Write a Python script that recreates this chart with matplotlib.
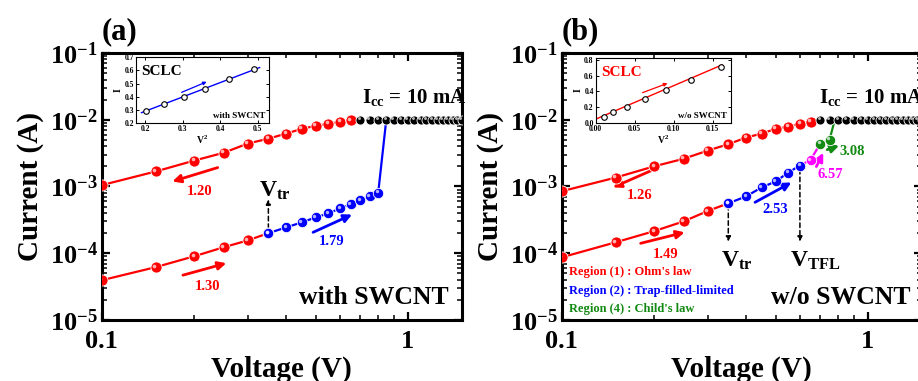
import numpy as np
import matplotlib.pyplot as plt
from matplotlib.ticker import NullFormatter
from matplotlib.transforms import ScaledTranslation

plt.rcParams['font.family'] = ['Liberation Serif', 'DejaVu Serif']
plt.rcParams['font.weight'] = 'bold'
plt.rcParams['axes.labelweight'] = 'bold'
plt.rcParams['mathtext.fontset'] = 'custom'
plt.rcParams['mathtext.rm'] = 'Liberation Serif:bold'
plt.rcParams['mathtext.bf'] = 'Liberation Serif:bold'
plt.rcParams['mathtext.it'] = 'Liberation Serif:bold'
plt.rcParams['axes.linewidth'] = 2.2

RED, BLUE, GREEN, MAG = '#ff0000', '#0000ff', '#138a13', '#ff00ff'

# (a) with SWCNT
a_back_v = [0.10, 0.15, 0.20, 0.25, 0.30, 0.35, 0.40, 0.45, 0.50, 0.55, 0.60, 0.65]
a_back_i = [1.05e-3, 1.68e-3, 2.44e-3, 3.2e-3, 4.4e-3, 5.2e-3, 6.2e-3, 7.3e-3, 8.1e-3, 8.7e-3, 9.3e-3, 9.8e-3]
a_ohm_v = [0.10, 0.15, 0.20, 0.25, 0.30, 0.35]
a_ohm_i = [3.95e-5, 6.2e-5, 9.0e-5, 1.23e-4, 1.56e-4, 2.0e-4]
a_tfl_v = [0.35, 0.40, 0.45, 0.50, 0.55, 0.60, 0.65, 0.70, 0.75, 0.80]
a_tfl_i = [2.0e-4, 2.44e-4, 2.9e-4, 3.45e-4, 3.95e-4, 4.7e-4, 5.4e-4, 6.2e-4, 7.1e-4, 8.1e-4]
a_jump_v = [0.80, 0.85]
a_jump_i = [8.1e-4, 1.0e-2]

# compliance level (both panels)
cc_v = [0.70, 0.75, 0.80, 0.85, 0.90, 0.95, 1.00, 1.05, 1.10, 1.15, 1.20, 1.25, 1.30, 1.35, 1.40, 1.45, 1.50]
cc_i = [1e-2] * len(cc_v)

# (b) w/o SWCNT
b_back_v = [0.10, 0.15, 0.20, 0.25, 0.30, 0.35, 0.40, 0.45, 0.50, 0.55, 0.60, 0.65]
b_back_i = [8.5e-4, 1.36e-3, 2.0e-3, 2.6e-3, 3.45e-3, 4.3e-3, 5.4e-3, 6.2e-3, 7.3e-3, 7.9e-3, 8.7e-3, 9.3e-3]
b_ohm_v = [0.10, 0.15, 0.20, 0.25, 0.30, 0.35]
b_ohm_i = [8.7e-5, 1.46e-4, 2.14e-4, 3.0e-4, 4.3e-4, 5.6e-4]
b_tfl_v = [0.35, 0.40, 0.45, 0.50, 0.55, 0.60]
b_tfl_i = [5.6e-4, 7.1e-4, 9.7e-4, 1.19e-3, 1.62e-3, 2.06e-3]
b_mag_v = [0.60, 0.65, 0.70]
b_mag_i = [2.06e-3, 2.5e-3, 4.4e-3]
b_child_v = [0.70, 0.75]
b_child_i = [4.4e-3, 5.0e-3]
b_jump_v = [0.75, 0.78]
b_jump_i = [5.0e-3, 1.0e-2]

# insets (SCLC, I vs V^2)
a_in_x = [0.2025, 0.25, 0.3025, 0.36, 0.4225, 0.49]
a_in_y = [0.292, 0.344, 0.395, 0.462, 0.531, 0.613]
a_fit_x = [0.19, 0.505]
a_fit_y = [0.279, 0.621]
b_in_x = [0.01, 0.0225, 0.04, 0.0625, 0.09, 0.1225, 0.16]
b_in_y = [0.08, 0.136, 0.207, 0.30, 0.419, 0.546, 0.715]
b_fit_x = [0.0, 0.162]
b_fit_y = [0.05, 0.737]

yticks = [1e-5, 1e-4, 1e-3, 1e-2, 1e-1]
ylabels = [r'$\mathbf{10^{-5}}$', r'$\mathbf{10^{-4}}$', r'$\mathbf{10^{-3}}$',
           r'$\mathbf{10^{-2}}$', r'$\mathbf{10^{-1}}$']
xticks = [0.1, 1]
xlabels = ['0.1', '1']

fig = plt.figure(figsize=(9.18, 3.81), dpi=100)
ax1 = fig.add_axes([0.111, 0.160, 0.392, 0.701])
ax2 = fig.add_axes([0.612, 0.160, 0.392, 0.701])


def balls(ax, v, i, color, ms, z=4):
    ax.plot(v, i, 'o', ms=ms, mfc=color, mec='white', mew=0.6, zorder=z)
    off = ScaledTranslation(-0.014, 0.014, fig.dpi_scale_trans)
    ax.plot(v, i, 'o', ms=ms * 0.33, mfc='white', mec='none', alpha=0.7,
            transform=ax.transData + off, zorder=z + 0.1)


def line(ax, v, i, color, ls='-'):
    ax.plot(v, i, ls, color=color, lw=1.6, zorder=3)


def arrow(ax, p0, p1, color, lw=2.0, ls='-', ms=12):
    ax.annotate('', xy=p1, xytext=p0,
                arrowprops=dict(arrowstyle='-|>', color=color, lw=lw, ls=ls,
                                mutation_scale=ms, shrinkA=0, shrinkB=0))


def style_main(ax, tag):
    ax.set_xscale('log')
    ax.set_yscale('log')
    ax.set_xlim(0.1, 1.5)
    ax.set_ylim(1e-5, 1e-1)
    ax.set_yticks(yticks)
    ax.set_yticklabels(ylabels)
    ax.set_xticks(xticks)
    ax.set_xticklabels(xlabels)
    ax.xaxis.set_minor_formatter(NullFormatter())
    ax.yaxis.set_minor_formatter(NullFormatter())
    ax.tick_params(which='both', direction='in', top=True, right=True)
    ax.tick_params(which='major', length=6, width=1.6, labelsize=19)
    ax.tick_params(which='minor', length=3.5, width=1.1)
    ax.tick_params(axis='y', pad=3)
    ax.tick_params(axis='x', pad=7)
    ax.set_xlabel('Voltage (V)', fontsize=21, labelpad=2)
    ax.set_ylabel('Current (A)', fontsize=21, labelpad=4)
    ax.text(0.0, 1.05, tag, transform=ax.transAxes, fontsize=22,
            ha='left', va='baseline')


def style_inset(ax, color, tag, xlim, ylim, xt, yt, xfmt):
    ax.set_xlim(*xlim)
    ax.set_ylim(*ylim)
    ax.set_xticks(xt)
    ax.set_yticks(yt)
    ax.set_xticklabels([xfmt % t for t in xt])
    ax.set_yticklabels(['%.1f' % t for t in yt])
    for s in ax.spines.values():
        s.set_linewidth(0.8)
    ax.tick_params(direction='in', length=2.5, width=0.7, labelsize=5.5,
                   pad=1.5, top=True, right=True)
    ax.set_ylabel('I', fontsize=7, labelpad=1)
    ax.set_xlabel(r'V$^2$', fontsize=7, labelpad=0)
    ax.text(0.04, 0.88, 'SCLC', transform=ax.transAxes, fontsize=11,
            color=color, va='top', ha='left')
    ax.text(0.97, 0.05, tag, transform=ax.transAxes, fontsize=6.5,
            ha='right', va='bottom')


# ---------- panel (a)
style_main(ax1, '(a)')
line(ax1, a_back_v, a_back_i, RED)
balls(ax1, a_back_v, a_back_i, RED, 8)
line(ax1, a_ohm_v, a_ohm_i, RED)
balls(ax1, a_ohm_v, a_ohm_i, RED, 8)
line(ax1, a_tfl_v, a_tfl_i, BLUE)
line(ax1, a_jump_v, a_jump_i, BLUE)
balls(ax1, a_tfl_v, a_tfl_i, BLUE, 7.5)
balls(ax1, cc_v, cc_i, 'black', 6.5, z=5)

arrow(ax1, (0.239, 1.92e-3), (0.170, 1.19e-3), RED)
ax1.text(0.209, 8.4e-4, '1.20', color=RED, fontsize=10.5, ha='center', va='center')
arrow(ax1, (0.184, 4.7e-5), (0.255, 7.1e-5), RED)
ax1.text(0.221, 3.2e-5, '1.30', color=RED, fontsize=10.5, ha='center', va='center')
arrow(ax1, (0.490, 2.06e-4), (0.657, 3.8e-4), BLUE)
ax1.text(0.565, 1.51e-4, '1.79', color=BLUE, fontsize=10.5, ha='center', va='center')
arrow(ax1, (0.35, 2.35e-4), (0.35, 6.4e-4), 'black', lw=1.1, ls=(0, (3, 2)), ms=7)
ax1.text(0.327, 7.1e-4, r'V$_{\mathbf{tr}}$', fontsize=17, ha='left', va='baseline')
ax1.text(0.708, 1.8e-2, r'I$_{\mathbf{cc}}$ = 10 mA', fontsize=15, ha='left', va='baseline')
ax1.text(1.36, 1.73e-5, 'with SWCNT', fontsize=18.5, ha='right', va='baseline')

in1 = fig.add_axes([0.148, 0.677, 0.145, 0.173])
style_inset(in1, 'black', 'with SWCNT', (0.175, 0.53), (0.2, 0.7),
            [0.2, 0.3, 0.4, 0.5], [0.2, 0.3, 0.4, 0.5, 0.6, 0.7], '%.1f')
in1.plot(a_fit_x, a_fit_y, color=BLUE, lw=1.0)
in1.plot(a_in_x, a_in_y, 'o', ms=4, mfc='white', mec='black', mew=0.8)
arrow(in1, (0.297, 0.433), (0.364, 0.513), BLUE, lw=0.9, ms=5)

# ---------- panel (b)
style_main(ax2, '(b)')
line(ax2, b_back_v, b_back_i, RED)
balls(ax2, b_back_v, b_back_i, RED, 8)
line(ax2, b_ohm_v, b_ohm_i, RED)
balls(ax2, b_ohm_v, b_ohm_i, RED, 8)
line(ax2, b_tfl_v, b_tfl_i, BLUE)
balls(ax2, b_tfl_v, b_tfl_i, BLUE, 7.5)
line(ax2, b_mag_v, b_mag_i, MAG)
balls(ax2, b_mag_v[1:2], b_mag_i[1:2], MAG, 7.5)
line(ax2, b_child_v, b_child_i, GREEN)
line(ax2, b_jump_v, b_jump_i, GREEN)
balls(ax2, b_child_v, b_child_i, GREEN, 7.5)
balls(ax2, cc_v, cc_i, 'black', 6.5, z=5)

arrow(ax2, (0.196, 1.73e-3), (0.147, 9.7e-4), RED)
ax2.text(0.179, 7.3e-4, '1.26', color=RED, fontsize=10.5, ha='center', va='center')
arrow(ax2, (0.181, 1.41e-4), (0.252, 2.06e-4), RED)
ax2.text(0.219, 9.7e-5, '1.49', color=RED, fontsize=10.5, ha='center', va='center')
arrow(ax2, (0.428, 5.8e-4), (0.563, 1.15e-3), BLUE)
ax2.text(0.500, 4.5e-4, '2.53', color=BLUE, fontsize=10.5, ha='center', va='center')
arrow(ax2, (0.679, 1.99e-3), (0.715, 3.2e-3), MAG)
ax2.text(0.754, 1.51e-3, '6.57', color=MAG, fontsize=10.5, ha='center', va='center')
arrow(ax2, (0.737, 3.56e-3), (0.806, 4.1e-3), GREEN)
ax2.text(0.806, 3.3e-3, '3.08', color=GREEN, fontsize=10.5, ha='left', va='center')
arrow(ax2, (0.35, 5.2e-4), (0.35, 1.5e-4), 'black', lw=1.1, ls=(0, (3, 2)), ms=7)
arrow(ax2, (0.60, 1.8e-3), (0.60, 1.5e-4), 'black', lw=1.1, ls=(0, (3, 2)), ms=7)
ax2.text(0.332, 6.2e-5, r'V$_{\mathbf{tr}}$', fontsize=17, ha='left', va='baseline')
ax2.text(0.555, 6.2e-5, r'V$_{\mathbf{TFL}}$', fontsize=17, ha='left', va='baseline')
ax2.text(0.694, 1.8e-2, r'I$_{\mathbf{cc}}$ = 10 mA', fontsize=15, ha='left', va='baseline')
ax2.text(1.377, 1.73e-5, 'w/o SWCNT', fontsize=18.5, ha='right', va='baseline')
ax2.text(0.1053, 5.2e-5, "Region (1) : Ohm's law", color=RED, fontsize=9, va='center')
ax2.text(0.1053, 2.71e-5, "Region (2) : Trap-filled-limited", color=BLUE, fontsize=9, va='center')
ax2.text(0.1053, 1.46e-5, "Region (4) : Child's law", color=GREEN, fontsize=9, va='center')

in2 = fig.add_axes([0.649, 0.677, 0.147, 0.171])
style_inset(in2, RED, 'w/o SWCNT', (0.0, 0.173), (0.0, 0.825),
            [0.0, 0.05, 0.10, 0.15], [0.0, 0.2, 0.4, 0.6, 0.8], '%.2f')
in2.plot(b_fit_x, b_fit_y, color=RED, lw=1.0)
in2.plot(b_in_x, b_in_y, 'o', ms=4, mfc='white', mec='black', mew=0.8)
arrow(in2, (0.060, 0.385), (0.092, 0.504), RED, lw=0.9, ms=5)

fig.savefig('out.png', dpi=100)
